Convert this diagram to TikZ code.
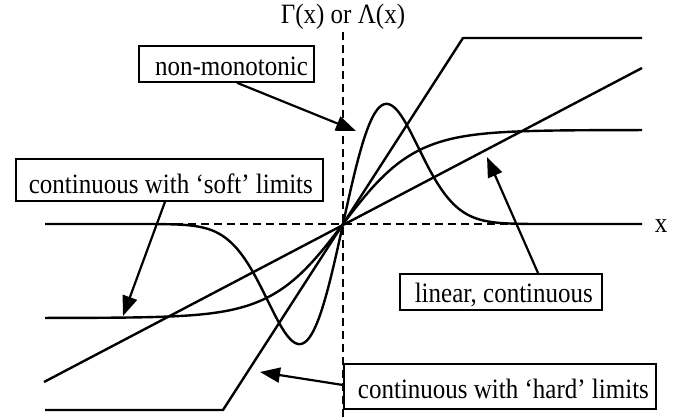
\documentclass[tikz,border=0pt]{standalone}
\usepackage{fontspec}
\setmainfont{Liberation Serif}
\usetikzlibrary{arrows.meta}
\newcommand\tallt[1]{\scalebox{1}[1.12]{#1}}
\begin{document}
\begin{tikzpicture}[x=1pt,y=-1pt,
  curve/.style={line width=2.4pt, line join=round},
  axis/.style={line width=2.2pt, dash pattern=on 8pt off 5pt},
  lbox/.style={draw, line width=1.8pt, fill=white, inner sep=0pt, anchor=north west, font=\fontsize{25}{25}\selectfont},
  lbl/.style={inner sep=0pt, anchor=base, font=\fontsize{25}{25}\selectfont},
  pointer/.style={line width=2.2pt, -{Triangle[length=20pt,width=15pt]}}]
\useasboundingbox (0,0) rectangle (683,417);
% axes
\coordinate (O) at (343,224);
\coordinate (vtop) at (343,32);
\coordinate (vbot) at (343,417);
\coordinate (hl) at (45,224);
\coordinate (hr) at (642,224);
\draw[axis] (vtop) -- (vbot);
\draw[axis] (hl) -- (hr);
\node[lbl] (ylab) at (343,24) {\tallt{Γ(x) or Λ(x)}};
\node[lbl] (xlab) at (661,233) {\tallt{x}};
% curves
\coordinate (h0) at (45,410);
\coordinate (h1) at (223,410);
\coordinate (h2) at (463,38);
\coordinate (h3) at (642,38);
\draw[curve] (h0) -- (h1) -- (h2) -- (h3);
\coordinate (l0) at (44,382);
\coordinate (l1) at (642,68);
\draw[curve] (l0) -- (l1);
\draw[curve] plot[domain=-298:299, samples=300] ({343+\x}, {224 - 94*tanh(\x/72)});
\draw[curve] plot[domain=-298:299, samples=400] ({343+\x}, {224 - 198*(\x/43.5)*exp(-0.5*(\x/43.5)^2)});
% boxes
\node[lbox, text height=30pt, text depth=6pt] (nm) at (138,45) {\makebox[175pt][r]{\tallt{non-monotonic}\hspace*{6pt}}};
\node[lbox, text height=35pt, text depth=7pt] (soft) at (15,158) {\makebox[307pt][r]{\tallt{continuous with ‘soft’ limits}\hspace*{10pt}}};
\node[lbox, text height=29pt, text depth=7pt] (lin) at (399,273) {\makebox[202pt][r]{\tallt{linear, continuous}\hspace*{9pt}}};
\node[lbox, text height=35pt, text depth=10pt] (hard) at (343,363) {\makebox[312pt][r]{\tallt{continuous with ‘hard’ limits}\hspace*{7pt}}};
% pointers
\coordinate (nmtip) at (356,131);
\coordinate (softtip) at (123,316);
\coordinate (lintip) at (487,157);
\coordinate (hardtip) at (260,372);
\draw[pointer] ([xshift=99pt]nm.south west) -- (nmtip);
\draw[pointer] ([xshift=150pt]soft.south west) -- (softtip);
\draw[pointer] ([xshift=139pt]lin.north west) -- (lintip);
\draw[pointer] ([yshift=-22pt]hard.north west) -- (hardtip);
\end{tikzpicture}
\end{document}
